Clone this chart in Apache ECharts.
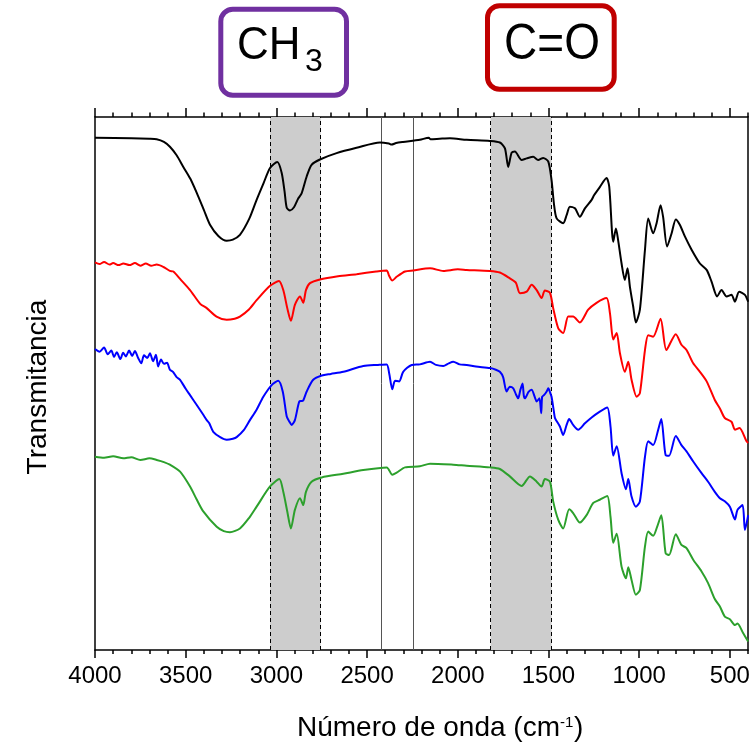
<!DOCTYPE html>
<html>
<head>
<meta charset="utf-8">
<script src="https://cdn.jsdelivr.net/npm/echarts@6/dist/echarts.min.js"></script>
<style>
  html, body { margin: 0; padding: 0; background: #fff; }
  #chart { width: 753px; height: 747px; }
</style>
</head>
<body>
<div id="chart"></div>
<script>
// FTIR spectra: [wavenumber (cm-1), transmittance (a.u., offset traces)]
const spectrumBlack = [[4000,96.1],[3800,96.0],[3700,95.9],[3660,95.8],[3620,95.3],[3587,94.4],[3550,92.8],[3513,90.6],[3475,88.4],[3439,85.7],[3400,82.5],[3366,79.7],[3320,77.6],[3274,76.7],[3240,76.9],[3201,77.8],[3150,80.8],[3109,84.4],[3070,87.6],[3035,90.4],[2995,91.5],[2971,89.5],[2955,86.0],[2943,82.9],[2925,82.4],[2903,83.0],[2879,84.7],[2861,85.6],[2833,88.8],[2806,91.0],[2760,92.0],[2668,93.2],[2558,94.2],[2429,95.2],[2380,95.0],[2365,94.8],[2340,95.1],[2302,95.3],[2209,95.7],[2160,96.1],[2150,95.8],[2100,95.9],[2043,96.0],[1951,95.7],[1823,95.5],[1768,95.2],[1740,94.1],[1722,90.6],[1703,93.3],[1685,93.5],[1648,91.9],[1620,92.2],[1584,92.5],[1557,91.9],[1529,92.3],[1501,91.6],[1483,88.1],[1470,83.7],[1455,80.9],[1419,80.0],[1400,81.5],[1382,83.1],[1354,82.8],[1327,81.2],[1299,82.8],[1262,84.4],[1248,85.3],[1217,86.8],[1180,88.5],[1165,86.9],[1143,76.5],[1128,79.0],[1116,76.8],[1097,72.4],[1079,69.3],[1064,71.5],[1051,68.0],[1033,64.3],[1018,61.3],[996,63.7],[968,75.0],[950,80.9],[923,78.1],[904,80.0],[882,83.4],[868,81.2],[846,75.6],[821,78.1],[798,80.7],[776,79.7],[748,77.5],[711,75.0],[665,72.4],[628,71.2],[601,69.0],[570,66.2],[546,67.4],[518,66.2],[491,66.5],[472,65.2],[449,67.1],[417,66.5],[399,65.2]];

const spectrumRed = [[4000,72.6],[3975,72.3],[3950,72.7],[3920,72.2],[3900,72.5],[3870,72.1],[3844,72.4],[3810,72.1],[3780,72.5],[3750,72.0],[3720,72.4],[3690,72.0],[3660,72.2],[3620,71.7],[3587,71.0],[3568,70.9],[3531,69.5],[3476,67.4],[3420,64.8],[3384,64.0],[3330,62.4],[3274,61.8],[3230,62.0],[3201,62.4],[3150,63.8],[3109,65.5],[3035,68.2],[2986,69.1],[2962,67.4],[2940,64.0],[2920,61.6],[2898,64.6],[2870,66.2],[2852,65.0],[2837,67.4],[2815,68.7],[2760,69.4],[2660,70.0],[2558,70.4],[2450,70.9],[2392,71.1],[2380,70.2],[2361,69.2],[2337,69.9],[2291,70.9],[2246,71.1],[2153,71.5],[2080,71.0],[2000,71.3],[1951,71.2],[1823,71.0],[1768,70.7],[1713,69.6],[1680,68.8],[1657,66.8],[1620,67.1],[1593,68.4],[1565,67.4],[1538,65.9],[1520,67.3],[1492,66.9],[1474,64.0],[1446,60.2],[1419,59.3],[1391,62.4],[1364,62.4],[1327,61.3],[1281,63.7],[1235,65.0],[1180,65.9],[1161,63.0],[1143,58.1],[1124,59.3],[1106,55.5],[1079,52.0],[1060,53.9],[1042,50.5],[1014,47.3],[996,48.0],[968,56.1],[950,58.9],[923,58.6],[882,62.0],[850,56.1],[798,59.1],[767,57.1],[739,56.1],[702,53.6],[665,52.0],[628,50.2],[583,46.7],[555,45.1],[528,43.3],[491,42.6],[472,41.1],[447,41.4],[408,38.9],[399,38.6]];

const spectrumBlue = [[4000,56.3],[3975,55.8],[3950,56.6],[3930,55.3],[3910,56.0],[3895,54.8],[3880,55.7],[3860,54.4],[3845,55.6],[3830,54.9],[3812,56.0],[3795,55.0],[3780,55.9],[3762,54.6],[3745,53.6],[3730,55.1],[3712,54.6],[3697,55.5],[3680,54.0],[3664,55.2],[3652,53.0],[3636,54.3],[3620,53.5],[3603,53.7],[3587,52.4],[3570,52.0],[3550,51.0],[3531,50.5],[3500,48.8],[3476,47.6],[3440,45.8],[3403,43.9],[3384,42.9],[3370,42.3],[3348,40.7],[3310,39.7],[3274,39.2],[3240,39.4],[3219,39.7],[3180,41.0],[3146,42.9],[3110,44.8],[3072,47.3],[3026,49.5],[2990,50.3],[2965,48.3],[2943,43.6],[2928,42.6],[2916,42.0],[2898,42.9],[2874,46.4],[2860,46.5],[2852,46.6],[2833,48.3],[2797,50.5],[2750,51.3],[2700,51.6],[2631,52.0],[2521,53.1],[2440,53.3],[2392,53.4],[2378,51.7],[2361,48.7],[2346,50.3],[2323,50.2],[2301,52.0],[2254,53.3],[2209,53.4],[2153,53.9],[2120,53.3],[2080,53.1],[2050,53.6],[2025,53.9],[1990,53.4],[1951,53.3],[1900,53.0],[1823,52.7],[1790,52.4],[1768,52.0],[1750,51.0],[1731,48.3],[1713,49.2],[1694,48.9],[1680,47.8],[1667,47.0],[1655,48.6],[1643,49.8],[1636,47.5],[1630,47.0],[1610,48.2],[1593,48.6],[1575,47.2],[1565,46.4],[1550,47.0],[1540,44.2],[1535,47.3],[1525,47.6],[1510,48.3],[1501,48.9],[1490,48.0],[1483,47.3],[1470,44.5],[1464,43.3],[1437,41.7],[1419,40.1],[1400,42.0],[1386,43.1],[1364,42.0],[1336,41.1],[1299,42.3],[1262,43.4],[1217,44.5],[1176,45.3],[1158,41.7],[1143,36.2],[1124,38.0],[1097,32.9],[1073,29.9],[1060,31.8],[1042,28.5],[1018,26.6],[996,27.6],[968,36.0],[950,38.9],[923,38.2],[895,41.1],[878,43.1],[854,36.3],[835,36.2],[798,39.9],[767,38.2],[739,37.0],[702,35.1],[656,32.9],[620,31.3],[583,29.4],[555,28.2],[528,27.6],[500,26.6],[472,24.2],[458,26.0],[430,26.9],[417,22.2],[399,25.0]];

const spectrumGreen = [[4000,36.0],[3950,35.8],[3900,36.1],[3844,35.7],[3800,35.9],[3750,35.4],[3700,35.7],[3660,35.4],[3620,35.0],[3587,34.5],[3531,33.2],[3476,30.4],[3440,28.0],[3403,25.7],[3329,22.8],[3290,22.0],[3256,21.8],[3201,22.5],[3150,24.5],[3109,26.6],[3035,30.4],[2984,31.8],[2962,29.4],[2940,25.7],[2920,22.5],[2898,26.0],[2870,28.2],[2852,26.9],[2837,29.4],[2806,31.3],[2750,32.1],[2631,32.8],[2521,33.5],[2392,34.0],[2361,32.6],[2337,33.0],[2291,34.0],[2209,34.2],[2153,34.7],[2025,34.5],[1951,34.3],[1823,34.0],[1768,33.7],[1713,32.3],[1648,30.5],[1602,32.3],[1565,31.3],[1538,30.4],[1520,31.8],[1492,31.3],[1474,27.6],[1446,24.1],[1419,22.5],[1386,26.1],[1364,25.4],[1327,23.6],[1290,25.0],[1253,27.3],[1217,27.9],[1176,28.6],[1158,24.7],[1143,19.8],[1124,21.5],[1097,15.3],[1073,13.1],[1060,15.2],[1042,12.8],[1018,10.0],[996,10.9],[968,19.1],[950,21.9],[923,21.1],[901,22.8],[878,25.0],[854,17.8],[835,17.5],[798,21.4],[767,19.4],[739,18.8],[702,16.6],[656,14.4],[620,12.2],[583,9.2],[555,7.8],[528,5.9],[500,5.4],[472,4.3],[458,4.6],[427,2.8],[399,1.2]];

// Highlighted absorption bands (CH3 stretch, C=O stretch) and reference lines
const bandRegions = [[3035, 2756], [1819, 1483]];
const referenceLines = [2424, 2246];

// Axis ticks
const majorTicks = [4000, 3500, 3000, 2500, 2000, 1500, 1000, 500];
const minorTicks = [3900, 3800, 3700, 3600, 3400, 3300, 3200, 3100, 2900, 2800, 2700, 2600,
  2400, 2300, 2200, 2100, 1900, 1800, 1700, 1600, 1400, 1300, 1200, 1100,
  900, 800, 700, 600, 400];

const FONT = "Arial, 'Liberation Sans', sans-serif";
const chart = echarts.init(document.getElementById('chart'), null, { renderer: 'canvas' });

function xAxisDef(position, ticks, len, showLine, showLabel) {
  return {
    type: 'value', position: position, min: 400, max: 4000, inverse: true,
    axisLine: { show: showLine, onZero: false, lineStyle: { color: '#000', width: 1.5 } },
    axisTick: { show: true, customValues: ticks, length: len, inside: false,
      lineStyle: { color: '#000', width: 1.5 } },
    axisLabel: { show: showLabel, customValues: ticks, margin: 14,
      formatter: v => String(v),
      color: '#000', fontSize: 24, fontFamily: FONT },
    splitLine: { show: false }, minorTick: { show: false }
  };
}

function spectrumSeries(data, color) {
  return {
    type: 'line', data: data, xAxisIndex: 0, yAxisIndex: 0,
    showSymbol: false, smooth: 0.25, z: 5,
    lineStyle: { color: color, width: 2 }, silent: true
  };
}

const option = {
  animation: false,
  backgroundColor: '#fff',
  grid: { left: 95, right: 5, top: 117, bottom: 97, containLabel: false },
  xAxis: [
    xAxisDef('bottom', majorTicks, 8, true, true),
    xAxisDef('bottom', minorTicks, 4, false, false),
    xAxisDef('top', majorTicks, 9, true, false),
    xAxisDef('top', minorTicks, 4.5, false, false)
  ],
  yAxis: [
    { type: 'value', position: 'left', min: -0.4, max: 100,
      axisLine: { show: true, lineStyle: { color: '#000', width: 1.5 } },
      axisTick: { show: false }, axisLabel: { show: false }, splitLine: { show: false } },
    { type: 'value', position: 'right', min: -0.4, max: 100,
      axisLine: { show: true, lineStyle: { color: '#000', width: 1.5 } },
      axisTick: { show: false }, axisLabel: { show: false }, splitLine: { show: false } }
  ],
  series: [
    {
      type: 'line', data: [], xAxisIndex: 0, yAxisIndex: 0, z: 1, silent: true,
      markArea: {
        silent: true,
        itemStyle: { color: '#cdcdcd' },
        data: bandRegions.map(b => [{ xAxis: b[0] }, { xAxis: b[1] }])
      },
      markLine: {
        silent: true, symbol: ['none', 'none'], label: { show: false },
        data: [].concat(
          bandRegions.flat().map(v => ({ xAxis: v, lineStyle: { type: [4, 3], color: '#000', width: 1 } })),
          referenceLines.map(v => ({ xAxis: v, lineStyle: { type: 'solid', color: '#555', width: 1 } }))
        )
      }
    },
    spectrumSeries(spectrumBlack, '#000000'),
    spectrumSeries(spectrumRed, '#ff0000'),
    spectrumSeries(spectrumBlue, '#0000ff'),
    spectrumSeries(spectrumGreen, '#2ca02c')
  ],
  graphic: [
    // Group labels above the highlighted bands
    { type: 'rect', shape: { x: 220.8, y: 9.2, width: 125.7, height: 86, r: 12 },
      style: { fill: '#fff', stroke: '#7030a0', lineWidth: 5 } },
    { type: 'text', x: 237, y: 46, scaleY: 1.06, style: { text: 'CH', font: '44px ' + FONT, fill: '#000',
      textAlign: 'left', textVerticalAlign: 'middle' } },
    { type: 'text', x: 305, y: 62, style: { text: '3', font: '32px ' + FONT, fill: '#000',
      textAlign: 'left', textVerticalAlign: 'middle' } },
    { type: 'rect', shape: { x: 487.5, y: 5.8, width: 126.7, height: 83.4, r: 12 },
      style: { fill: '#fff', stroke: '#c00000', lineWidth: 5 } },
    { type: 'text', x: 552, y: 45.5, scaleY: 1.1, style: { text: 'C=O', font: '46px ' + FONT, fill: '#000',
      textAlign: 'center', textVerticalAlign: 'middle' } },
    // Axis titles
    { type: 'text', x: 297, y: 728, style: { text: 'Número de onda (cm', font: '28px ' + FONT,
      fill: '#000', textAlign: 'left', textVerticalAlign: 'middle' } },
    { type: 'text', x: 560, y: 723, style: { text: '-1', font: '15px ' + FONT,
      fill: '#000', textAlign: 'left', textVerticalAlign: 'middle' } },
    { type: 'text', x: 574, y: 728, style: { text: ')', font: '28px ' + FONT,
      fill: '#000', textAlign: 'left', textVerticalAlign: 'middle' } },
    { type: 'text', x: 38, y: 387, rotation: Math.PI / 2,
      style: { text: 'Transmitancia', font: '28px ' + FONT, fill: '#000',
        textAlign: 'center', textVerticalAlign: 'middle' } }
  ]
};

chart.setOption(option);
</script>
</body>
</html>
